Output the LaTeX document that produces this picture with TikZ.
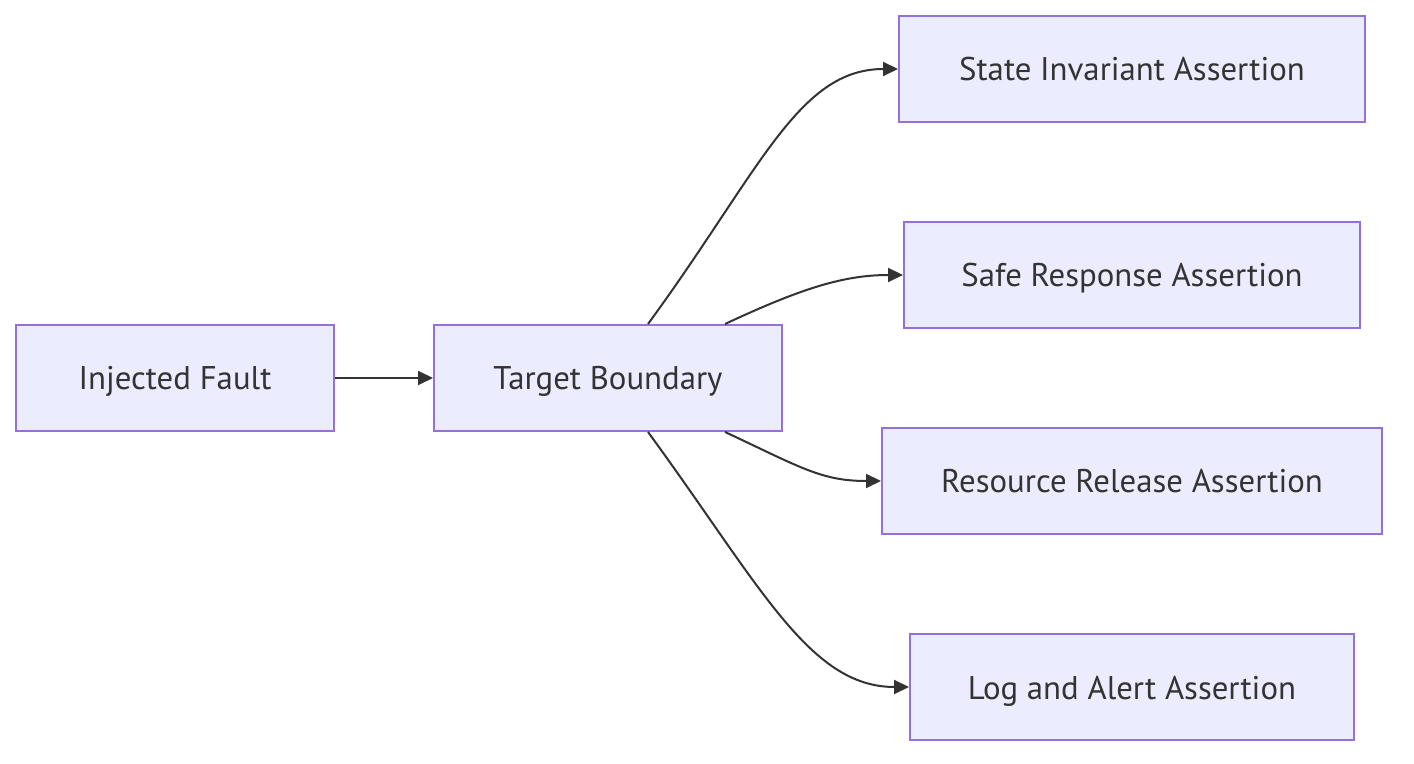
\documentclass[tikz,border=0pt]{standalone}
\usepackage{fontspec}
\setmainfont{PT Sans}
\usetikzlibrary{arrows.meta,calc}
\definecolor{nodefill}{HTML}{ECECFF}
\definecolor{nodeline}{HTML}{9370DB}
\definecolor{edgecol}{HTML}{333333}
\begin{document}
\begin{tikzpicture}[x=0.5pt,y=-0.5pt,
  box/.style={draw=nodeline,fill=nodefill,line width=1pt,inner sep=0pt,
    minimum height=53pt,text=edgecol,font=\fontsize{16.4}{19}\selectfont,
    text height=13pt,text depth=1pt},
  edge/.style={draw=edgecol,line width=1pt,-{Triangle[length=7.5pt,width=7pt]}}]
\useasboundingbox (0,0) rectangle (1414,764);
\node[box,minimum width=159pt] (fault) at (175,378) {Injected Fault};
\node[box,minimum width=174pt] (tb) at (608,378) {Target Boundary};
\node[box,minimum width=233pt] (s1) at (1132,69) {State Invariant Assertion};
\node[box,minimum width=228pt] (s2) at (1132,275) {Safe Response Assertion};
\node[box,minimum width=250pt] (s3) at (1132,481) {Resource Release Assertion};
\node[box,minimum width=222pt] (s4) at (1132,687) {Log and Alert Assertion};
\draw[edge] (fault.east) -- (tb.west);
\draw[edge] ($(tb.north)+(40,0)$) .. controls +(112,-153) and +(-100,0) .. (s1.west);
\draw[edge] ($(tb.north)+(117,0)$) .. controls +(75,-35) and +(-60,0) .. (s2.west);
\draw[edge] ($(tb.south)+(117,0)$) .. controls +(75,35) and +(-60,0) .. (s3.west);
\draw[edge] ($(tb.south)+(40,0)$) .. controls +(112,153) and +(-100,0) .. (s4.west);
\end{tikzpicture}
\end{document}
